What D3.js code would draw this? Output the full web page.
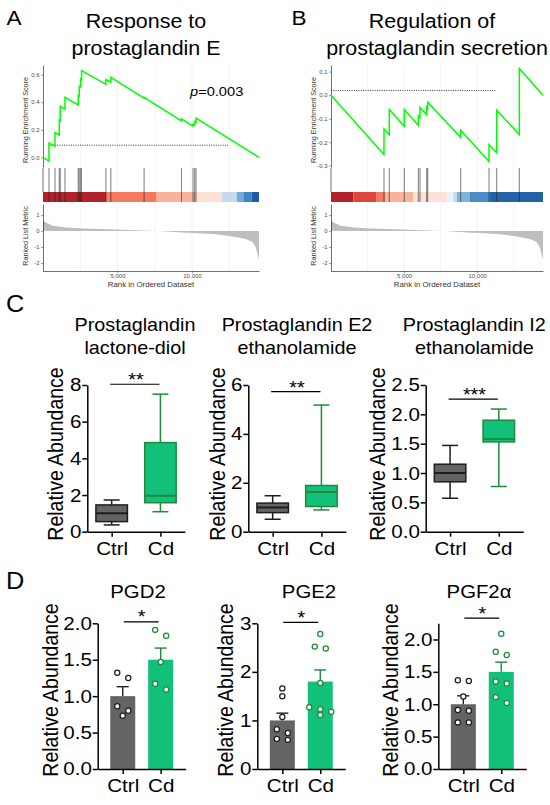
<!DOCTYPE html>
<html>
<head>
<meta charset="utf-8">
<script src="https://cdn.jsdelivr.net/npm/d3@7"></script>
<style>
  body { margin: 0; background: #fff; }
  svg { display: block; font-family: "Liberation Sans", Arial, Helvetica, sans-serif; }
</style>
</head>
<body>
<svg id="fig" width="550" height="805"></svg>
<script>
// ---------- data ----------
var rankMax = 14500;
var gridRanks = [2500, 5000, 7500, 10000, 12500];
var rankTicks = [5000, 10000];
var metricTicks = [-2, -1, 0, 1];

// A: response to prostaglandin E
var esA = [[0, 0], [401, -0.027], [402, 0.105], [803, 0.08], [804, 0.18], [1091, 0.162], [1092, 0.27],
  [1158, 0.265], [1159, 0.37], [1473, 0.35], [1474, 0.435], [2364, 0.38], [2365, 0.45], [2431, 0.445],
  [2432, 0.515], [2525, 0.51], [2526, 0.57], [2592, 0.565], [2593, 0.63], [4220, 0.53], [4221, 0.565],
  [4555, 0.545], [4556, 0.58], [6786, 0.43], [6787, 0.435], [9292, 0.265], [9293, 0.28], [10069, 0.226],
  [10070, 0.24], [10183, 0.233], [10184, 0.26], [10270, 0.254], [10271, 0.285], [14500, 0]];
var hitsA = [402, 804, 1092, 1159, 1474, 2365, 2432, 2526, 2593, 4221, 4556, 6787, 9293, 10070, 10184, 10271];
var esTicksA = [0, 0.2, 0.4, 0.6];
var dashA = [330, 12460, 0.088];
var breaksA = [0, 4229, 7633, 10204, 12000, 13007, 13450, 14014, 14500];

// B: regulation of prostaglandin secretion
var esB = [[0, 0], [3624, -0.252], [3625, -0.143], [3987, -0.168], [3988, -0.061], [5013, -0.132],
  [5014, -0.061], [5970, -0.128], [5971, -0.087], [6087, -0.095], [6088, -0.052], [6545, -0.083],
  [6546, -0.05], [6613, -0.055], [6614, -0.03], [8870, -0.18], [8871, -0.149], [10806, -0.282],
  [10807, -0.21], [11333, -0.245], [11334, -0.064], [12879, -0.167], [12880, 0.113], [14500, 0]];
var hitsB = [3625, 3988, 5014, 5971, 6088, 6546, 6614, 8871, 10807, 11334, 12880];
var esTicksB = [-0.3, -0.2, -0.1, 0, 0.1];
var dashB = [0, 11330, 0.02];
var breaksB = [0, 1525, 3126, 3694, 5630, 7914, 8366, 8598, 9508, 10876, 14500];

// ranked list metric (shared gene list)
var metric = [[0, 0.72], [100, 0.6], [223, 0.52], [670, 0.33], [1560, 0.23], [2676, 0.17], [4906, 0.1],
  [7136, 0.02], [7805, 0], [9366, -0.08], [10481, -0.13], [11596, -0.2], [12711, -0.33], [13603, -0.5],
  [14049, -0.67], [14272, -1.0], [14420, -1.5], [14500, -1.8]];

// C: box plots [min, q1, median, q3, max]
var groups = ["Ctrl", "Cd"];
var boxTitles = [["Prostaglandin", "lactone-diol"], ["Prostaglandin E2", "ethanolamide"], ["Prostaglandin I2", "ethanolamide"]];
var boxCtrl = [[0.37, 0.55, 1.0, 1.46, 1.73], [0.51, 0.78, 0.99, 1.17, 1.47], [0.57, 0.85, 1.0, 1.15, 1.47]];
var boxCd = [[1.09, 1.58, 1.96, 4.86, 7.5], [0.89, 1.03, 1.62, 1.89, 5.18], [0.77, 1.53, 1.58, 1.90, 2.09]];
var boxMax = [8, 6, 2.5];
var boxTicks = [[0, 2, 4, 6, 8], [0, 2, 4, 6], [0, 0.5, 1, 1.5, 2, 2.5]];
var boxSigLevel = [8.04, 5.73, 2.26];
var boxStars = ["**", "**", "***"];

// D: bars, mean + SEM with individual points
var barTitles = ["PGD2", "PGE2", "PGF2α"];
var ctrlPoints = [[1.32, 1.25, 0.86, 0.80, 0.73], [1.66, 1.50, 1.07, 0.82, 0.74, 0.62, 0.60], [1.37, 1.36, 1.12, 0.91, 0.90, 0.72, 0.72]];
var cdPoints = [[1.91, 1.83, 1.47, 1.17, 1.09], [2.78, 2.52, 2.48, 1.77, 1.27, 1.23, 1.18, 1.11], [2.09, 1.81, 1.76, 1.35, 1.32, 1.11, 1.02]];
var ctrlMean = [1.0, 1.0, 1.0];
var ctrlSem = [0.13, 0.15, 0.13];
var cdMean = [1.50, 1.80, 1.50];
var cdSem = [0.16, 0.24, 0.15];
var barMax = [2, 3, 2.25];
var barTicks = [[0, 0.5, 1, 1.5, 2], [0, 1, 2, 3], [0, 0.5, 1, 1.5, 2]];
var barSigLevel = [2.02, 3.02, 2.33];
var barStars = ["*", "*", "*"];

// ---------- styles ----------
var colorsA = ["#B2222B", "#F37A5F", "#F9B39B", "#FDE1D4", "#C5DAED", "#74ACD6", "#3F86C1", "#1D5BA3"];
var colorsB = ["#B2222B", "#DF463D", "#F37A5F", "#F9B39B", "#FDE1D4", "#EEF1F8", "#C5DAED", "#7EB3DA", "#4A8CC5", "#2462A8"];
var ctrlFill = "#646464", ctrlStroke = "#1e1e1e";
var cdFill = "#12C07A", cdStroke = "#1D8B39";
var SX = 1.1; // figure is slightly stretched horizontally

var svg = d3.select("#fig");
svg.append("rect").attr("width", 550).attr("height", 805).attr("fill", "#fff");

function txt(g, x, y, s, size, anchor, rotate) {
  return g.append("text")
    .attr("transform", "translate(" + x + "," + y + ") scale(" + SX + ",1)" + (rotate ? " rotate(-90)" : ""))
    .attr("font-size", size)
    .attr("text-anchor", anchor || "middle")
    .text(s);
}

function fix1(d) { return d.toFixed(1); }

function styleSmallAxis(a) {
  a.attr("font-family", null).attr("font-size", 5.5);
  a.select(".domain").attr("stroke", "#111").attr("stroke-width", 0.6);
  a.selectAll(".tick line").attr("stroke", "#333").attr("stroke-width", 0.5);
  a.selectAll(".tick text").attr("fill", "#4D4D4D").attr("transform", "scale(" + SX + ",1)");
}

function styleBigAxis(a) {
  a.attr("font-family", null).attr("font-size", 18.7);
  a.select(".domain").attr("stroke", "#000").attr("stroke-width", 1.5);
  a.selectAll(".tick line").attr("stroke", "#000").attr("stroke-width", 1.5);
  a.selectAll(".tick text").attr("fill", "#000").attr("transform", "scale(" + SX + ",1)");
}

// ---------- GSEA panels ----------
function drawGsea(p) {
  var g = svg.append("g");
  var x = d3.scaleLinear().domain([0, rankMax]).range([p.x0, p.x1]);
  var yEs = d3.scaleLinear().domain(p.esDomain).range([167, 65]);
  var yMetric = d3.scaleLinear().domain([-2.5, 1.7]).range([271, 204]);

  [[65, 167], [168, 192], [204, 271]].forEach(function (band) {
    g.selectAll(null).data(gridRanks).enter().append("line")
      .attr("x1", function (d) { return x(d); }).attr("x2", function (d) { return x(d); })
      .attr("y1", band[0]).attr("y2", band[1])
      .attr("stroke", "#EBEBEB").attr("stroke-width", 0.6);
  });

  // running ES
  var ay = g.append("g").attr("transform", "translate(" + p.x0 + ",0)")
    .call(d3.axisLeft(yEs).tickValues(p.esTicks).tickFormat(fix1).tickSize(2).tickPadding(1).tickSizeOuter(0));
  styleSmallAxis(ay);

  g.append("line")
    .attr("x1", x(p.dash[0])).attr("x2", x(p.dash[1]))
    .attr("y1", yEs(p.dash[2])).attr("y2", yEs(p.dash[2]))
    .attr("stroke", "#222").attr("stroke-width", 0.9).attr("stroke-dasharray", "1,1.3");

  g.append("path").datum(p.es)
    .attr("d", d3.line().x(function (d) { return x(d[0]); }).y(function (d) { return yEs(d[1]); }))
    .attr("fill", "none").attr("stroke", "#00FF00").attr("stroke-width", 1.5);

  // colour bar + hits
  g.selectAll(null).data(p.colors).enter().append("rect")
    .attr("x", function (d, i) { return x(p.breaks[i]); })
    .attr("width", function (d, i) { return x(p.breaks[i + 1]) - x(p.breaks[i]); })
    .attr("y", 192).attr("height", 10)
    .attr("fill", function (d) { return d; });

  g.append("line").attr("x1", p.x0).attr("x2", p.x0).attr("y1", 168).attr("y2", 192)
    .attr("stroke", "#111").attr("stroke-width", 0.6);

  g.selectAll(null).data(p.hits).enter().append("line")
    .attr("x1", function (d) { return x(d); }).attr("x2", function (d) { return x(d); })
    .attr("y1", 168).attr("y2", 202)
    .attr("stroke", "#222").attr("stroke-width", 0.7).attr("opacity", 0.85);

  // ranked list metric
  g.append("path").datum(metric)
    .attr("d", d3.area().x(function (d) { return x(d[0]); })
      .y0(yMetric(0)).y1(function (d) { return yMetric(d[1]); }))
    .attr("fill", "#BEBEBE");

  var am = g.append("g").attr("transform", "translate(" + p.x0 + ",0)")
    .call(d3.axisLeft(yMetric).tickValues(metricTicks).tickFormat(d3.format("d")).tickSize(2).tickPadding(1).tickSizeOuter(0));
  styleSmallAxis(am);
  am.selectAll(".tick text").text(function (d) { return String(d); });

  var ax = g.append("g").attr("transform", "translate(0,271)")
    .call(d3.axisBottom(x).tickValues(rankTicks).tickFormat(d3.format(",")).tickSize(2).tickPadding(1).tickSizeOuter(0));
  styleSmallAxis(ax);

  // labels
  txt(g, p.x0 - 15.5, 120, "Running Enrichment Score", 7.2, "middle", true).attr("fill", "#333");
  txt(g, p.x0 - 15.5, 236, "Ranked List Metric", 7.2, "middle", true).attr("fill", "#333");
  txt(g, (p.x0 + p.x1) / 2, 287, "Rank in Ordered Dataset", 7.1, "middle").attr("fill", "#333");

  txt(g, p.titleX[0], 28.3, p.title[0], 19.5, "middle");
  txt(g, p.titleX[1], 55, p.title[1], 19.5, "middle");
  txt(g, p.letterX, 25, p.letter, 20.5, "start");
  return g;
}

var gA = drawGsea({
  x0: 43, x1: 259, es: esA, hits: hitsA, esDomain: [-0.07, 0.67], esTicks: esTicksA,
  dash: dashA, breaks: breaksA, colors: colorsA,
  title: ["Response to", "prostaglandin E"], titleX: [146, 146], letter: "A", letterX: 6.5
});
var pv = txt(gA, 190, 96, "", 13.3, "start");
pv.append("tspan").attr("font-style", "italic").text("p");
pv.append("tspan").text("=0.003");

drawGsea({
  x0: 331, x1: 543, es: esB, hits: hitsB, esDomain: [-0.305, 0.128], esTicks: esTicksB,
  dash: dashB, breaks: breaksB, colors: colorsB,
  title: ["Regulation of", "prostaglandin secretion"], titleX: [432, 437], letter: "B", letterX: 291.5
});

// ---------- C: box plots ----------
var boxLayout = [
  { axisX: 87.3, titleX: 135, labelX: 63.3, fmt: d3.format("d") },
  { axisX: 248.3, titleX: 297, labelX: 225, fmt: d3.format("d") },
  { axisX: 425.7, titleX: 474.3, labelX: 385, fmt: fix1 }
];

function drawBox(g, cx, s, y, fill, stroke) {
  var w = 31.5, cap = 16;
  g.append("line").attr("x1", cx).attr("x2", cx).attr("y1", y(s[0])).attr("y2", y(s[4]))
    .attr("stroke", stroke).attr("stroke-width", 1.5);
  [s[0], s[4]].forEach(function (v) {
    g.append("line").attr("x1", cx - cap / 2).attr("x2", cx + cap / 2).attr("y1", y(v)).attr("y2", y(v))
      .attr("stroke", stroke).attr("stroke-width", 1.5);
  });
  g.append("rect").attr("x", cx - w / 2).attr("width", w)
    .attr("y", y(s[3])).attr("height", y(s[1]) - y(s[3]))
    .attr("fill", fill).attr("stroke", stroke).attr("stroke-width", 1.5);
  g.append("line").attr("x1", cx - w / 2).attr("x2", cx + w / 2).attr("y1", y(s[2])).attr("y2", y(s[2]))
    .attr("stroke", stroke).attr("stroke-width", 2);
}

var gC = svg.append("g");
txt(gC, 6, 312, "C", 23, "start");
boxLayout.forEach(function (L, i) {
  var g = gC.append("g");
  var x = d3.scalePoint().domain(groups).range([L.axisX, L.axisX + 97.5]).padding(0.5);
  var y = d3.scaleLinear().domain([0, boxMax[i]]).range([531.7, 385]);

  drawBox(g, x("Ctrl"), boxCtrl[i], y, ctrlFill, ctrlStroke);
  drawBox(g, x("Cd"), boxCd[i], y, cdFill, cdStroke);

  var ay = g.append("g").attr("transform", "translate(" + L.axisX + ",0)")
    .call(d3.axisLeft(y).tickValues(boxTicks[i]).tickFormat(L.fmt).tickSize(5).tickPadding(0.3).tickSizeOuter(0));
  styleBigAxis(ay);
  var ax = g.append("g").attr("transform", "translate(0,531.7)")
    .call(d3.axisBottom(x).tickSize(5).tickPadding(5).tickSizeOuter(0));
  styleBigAxis(ax);

  var sy = y(boxSigLevel[i]);
  g.append("line").attr("x1", x("Ctrl") - 1.5).attr("x2", x("Cd") - 1).attr("y1", sy).attr("y2", sy)
    .attr("stroke", "#000").attr("stroke-width", 1.2);
  txt(g, (x("Ctrl") + x("Cd")) / 2, sy + 2, boxStars[i], 18, "middle");

  txt(g, L.titleX, 331, boxTitles[i][0], 18, "middle");
  txt(g, L.titleX, 354, boxTitles[i][1], 18, "middle");
  txt(g, L.labelX, 454, "Relative Abundance", 19.5, "middle", true);
});

// ---------- D: bar charts ----------
var barLayout = [
  { axisX: 97.7, titleX: 138, labelX: 58.3, fmt: fix1 },
  { axisX: 257.3, titleX: 309, labelX: 233.3, fmt: d3.format("d") },
  { axisX: 438.3, titleX: 479, labelX: 398.3, fmt: fix1 }
];

// spread points sharing a height into centred rows
function swarm(values, y) {
  var rows = [];
  values.slice().sort(function (a, b) { return b - a; }).forEach(function (v) {
    var last = rows[rows.length - 1];
    if (last && Math.abs(y(v) - y(last[0])) < 6) last.push(v); else rows.push([v]);
  });
  var out = [];
  rows.forEach(function (r) {
    r.forEach(function (v, k) { out.push({ v: v, dx: (k - (r.length - 1) / 2) * 11 }); });
  });
  return out;
}

function drawBar(g, cx, mean, sem, pts, y, fill, stroke) {
  var w = 25;
  g.append("rect").attr("x", cx - w / 2).attr("width", w)
    .attr("y", y(mean)).attr("height", y(0) - y(mean)).attr("fill", fill);
  g.append("line").attr("x1", cx).attr("x2", cx).attr("y1", y(mean)).attr("y2", y(mean + sem))
    .attr("stroke", stroke).attr("stroke-width", 1.4);
  g.append("line").attr("x1", cx - 6).attr("x2", cx + 6).attr("y1", y(mean + sem)).attr("y2", y(mean + sem))
    .attr("stroke", stroke).attr("stroke-width", 1.4);
  g.selectAll(null).data(swarm(pts, y)).enter().append("circle")
    .attr("cx", function (d) { return cx + d.dx; })
    .attr("cy", function (d) { return y(d.v); })
    .attr("r", 2.6)
    .attr("fill", "#fff").attr("stroke", stroke).attr("stroke-width", 1.25);
}

var gD = svg.append("g");
txt(gD, 6, 589, "D", 23, "start");
barLayout.forEach(function (L, i) {
  var g = gD.append("g");
  var x = d3.scalePoint().domain(groups).range([L.axisX, L.axisX + 88]).padding(0.66);
  var y = d3.scaleLinear().domain([0, barMax[i]]).range([769, 623.3]);

  drawBar(g, x("Ctrl"), ctrlMean[i], ctrlSem[i], ctrlPoints[i], y, ctrlFill, ctrlStroke);
  drawBar(g, x("Cd"), cdMean[i], cdSem[i], cdPoints[i], y, cdFill, cdStroke);

  var ay = g.append("g").attr("transform", "translate(" + L.axisX + ",0)")
    .call(d3.axisLeft(y).tickValues(barTicks[i]).tickFormat(L.fmt).tickSize(5).tickPadding(0.3).tickSizeOuter(0));
  styleBigAxis(ay);
  var ax = g.append("g").attr("transform", "translate(0,769)")
    .call(d3.axisBottom(x).tickSize(5).tickPadding(5).tickSizeOuter(0));
  styleBigAxis(ax);

  var sy = y(barSigLevel[i]);
  g.append("line").attr("x1", x("Ctrl") + 1).attr("x2", x("Cd") - 2).attr("y1", sy).attr("y2", sy)
    .attr("stroke", "#000").attr("stroke-width", 1.2);
  txt(g, (x("Ctrl") + x("Cd")) / 2, sy + 1.5, barStars[i], 18, "middle");

  txt(g, L.titleX, 598, barTitles[i], 18.5, "middle");
  txt(g, L.labelX, 690, "Relative Abundance", 19.5, "middle", true);
});
</script>
</body>
</html>
